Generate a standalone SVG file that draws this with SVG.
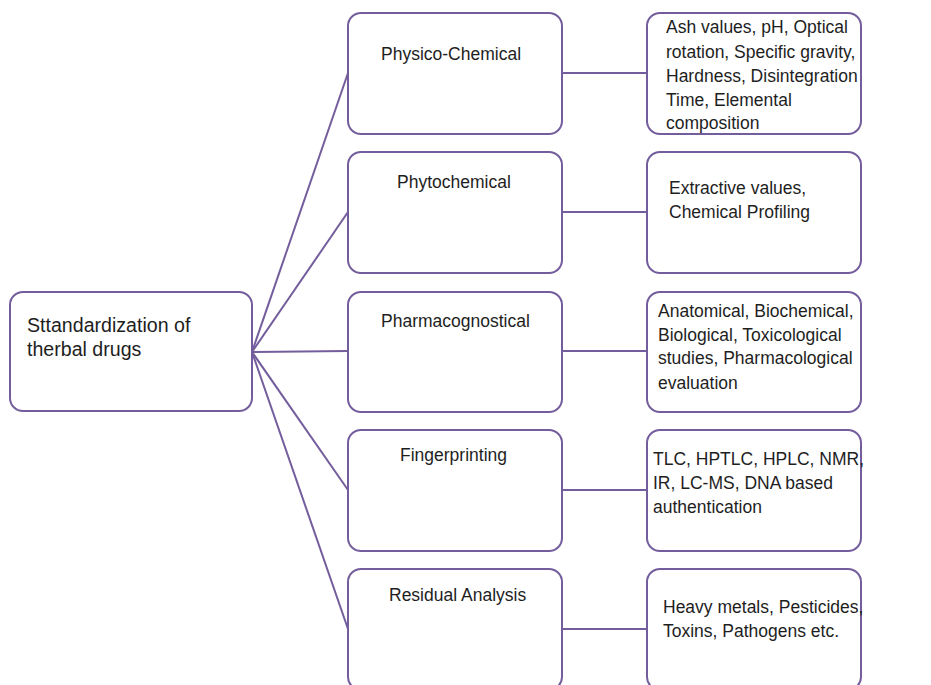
<svg xmlns="http://www.w3.org/2000/svg" width="931" height="685" viewBox="0 0 931 685">
<style>
.box{fill:#fff;stroke:#735d9c;stroke-width:2}
.c{fill:none;stroke:#735d9c;stroke-width:2}
text{font-family:"Liberation Sans",Arial,sans-serif;font-size:17.5px;fill:#1e1e1e}
.root{font-size:19.6px}
</style>
<rect width="931" height="685" fill="#fff"/>
<g id="connectors">
<line class="c" x1="252" y1="352" x2="348" y2="73"/>
<line class="c" x1="252" y1="352" x2="348" y2="212"/>
<line class="c" x1="252" y1="352" x2="348" y2="351"/>
<line class="c" x1="252" y1="352" x2="348" y2="490"/>
<line class="c" x1="252" y1="352" x2="348" y2="629"/>
<line class="c" x1="562" y1="73" x2="647" y2="73"/>
<line class="c" x1="562" y1="212" x2="647" y2="212"/>
<line class="c" x1="562" y1="351" x2="647" y2="351"/>
<line class="c" x1="562" y1="490" x2="647" y2="490"/>
<line class="c" x1="562" y1="629" x2="647" y2="629"/>
</g>
<g id="root">
<rect class="box" x="10" y="292" width="242" height="119" rx="13"/>
<text class="root" x="27" y="332">Sttandardization of</text>
<text class="root" x="27" y="356">therbal drugs</text>
</g>
<g id="physico">
<rect class="box" x="348" y="13" width="214" height="121" rx="13"/>
<text x="381" y="60">Physico-Chemical</text>
</g>
<g id="phyto">
<rect class="box" x="348" y="152" width="214" height="121" rx="13"/>
<text x="397" y="188">Phytochemical</text>
</g>
<g id="pharmaco">
<rect class="box" x="348" y="292" width="214" height="120" rx="13"/>
<text x="381" y="327">Pharmacognostical</text>
</g>
<g id="finger">
<rect class="box" x="348" y="430" width="214" height="121" rx="13"/>
<text x="400" y="461">Fingerprinting</text>
</g>
<g id="residual">
<rect class="box" x="348" y="569" width="214" height="121" rx="13"/>
<text x="389" y="601">Residual Analysis</text>
</g>
<g id="physico-detail">
<rect class="box" x="647" y="13" width="214" height="121" rx="13"/>
<text x="666" y="33">Ash values, pH, Optical</text>
<text x="666" y="58">rotation, Specific gravity,</text>
<text x="666" y="82">Hardness, Disintegration</text>
<text x="666" y="106">Time, Elemental</text>
<text x="666" y="129">composition</text>
</g>
<g id="phyto-detail">
<rect class="box" x="647" y="152" width="214" height="121" rx="13"/>
<text x="669" y="194">Extractive values,</text>
<text x="669" y="218">Chemical Profiling</text>
</g>
<g id="pharmaco-detail">
<rect class="box" x="647" y="292" width="214" height="120" rx="13"/>
<text x="658" y="317">Anatomical, Biochemical,</text>
<text x="658" y="341">Biological, Toxicological</text>
<text x="658" y="364">studies, Pharmacological</text>
<text x="658" y="389">evaluation</text>
</g>
<g id="finger-detail">
<rect class="box" x="647" y="430" width="214" height="121" rx="13"/>
<text x="653" y="465">TLC, HPTLC, HPLC, NMR,</text>
<text x="653" y="489">IR, LC-MS, DNA based</text>
<text x="653" y="513">authentication</text>
</g>
<g id="residual-detail">
<rect class="box" x="647" y="569" width="214" height="121" rx="13"/>
<text x="663" y="613">Heavy metals, Pesticides,</text>
<text x="663" y="637">Toxins, Pathogens etc.</text>
</g>
</svg>
